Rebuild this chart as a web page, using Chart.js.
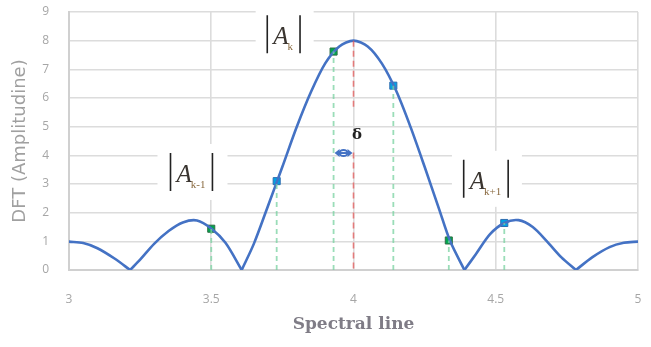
<!DOCTYPE html>
<html>
<head>
<meta charset="utf-8">
<script src="https://cdn.jsdelivr.net/npm/chart.js@4.4.0/dist/chart.umd.min.js"></script>
<style>
  html, body { margin: 0; padding: 0; background: #fff; }
  #wrap { width: 651px; height: 347px; }
</style>
</head>
<body>
<div id="wrap"><canvas id="dft-chart" width="651" height="347"></canvas></div>
<script>
    "use strict";

    // DFT amplitude curve
    var curveX = [3.00, 3.05, 3.10, 3.16, 3.215, 3.25, 3.30, 3.35, 3.40, 3.45, 3.50, 3.55, 3.607,
                  3.65, 3.70, 3.75, 3.80, 3.85, 3.90, 3.95, 4.00, 4.05, 4.10, 4.15, 4.20, 4.25, 4.30, 4.34, 4.39,
                  4.43, 4.48, 4.53, 4.58, 4.63, 4.68, 4.73, 4.782, 4.84, 4.90, 4.95, 5.00];
    var curveY = [0.99, 0.94, 0.76, 0.40, 0, 0.36, 0.92, 1.36, 1.66, 1.73, 1.45, 0.95, 0,
                  0.92, 2.25, 3.60, 4.98, 6.20, 7.20, 7.80, 8.00, 7.80, 7.20, 6.25, 5.00, 3.60, 2.15, 1.00, 0,
                  0.55, 1.25, 1.64, 1.74, 1.50, 1.00, 0.45, 0, 0.45, 0.80, 0.95, 0.99];

    // sampled spectral lines
    var greenX = [3.50, 3.93, 4.335];
    var greenY = [1.44, 7.62, 1.03];
    var blueX = [3.73, 4.14, 4.53];
    var blueY = [3.10, 6.43, 1.64];

    // true peak position and the red marker pieces
    var peakX = 4.0;
    var redUpper = [8.0, 5.6];
    var redLower = [4.1, 0];
    var deltaFrom = 3.93;
    var deltaY = 4.08;

    var xTicks = [3, 3.5, 4, 4.5, 5];
    var yTicks = [0, 1, 2, 3, 4, 5, 6, 7, 8, 9];

    var labelSubs = ["k-1", "k", "k+1"];
    var labelX = [3.434, 3.758, 4.469];
    var labelY = [3.42, 8.22, 3.18];

    // split the curve into lobes at the zeros so the dips stay sharp
    var lobes = [];
    var cur = [];
    for (var i = 0; i < curveX.length; i++) {
        cur.push({x: curveX[i], y: curveY[i]});
        if (curveY[i] === 0 && i > 0 && i < curveX.length - 1) {
            lobes.push(cur);
            cur = [{x: curveX[i], y: 0}];
        }
    }
    lobes.push(cur);

    var datasets = [];
    var green = "rgba(120,210,160,0.75)";

    function addDrop(x, y) {
        datasets.push({
            data: [{x: x, y: 0}, {x: x, y: y}],
            borderColor: green, borderWidth: 1.8, borderDash: [5, 4],
            pointRadius: 0, tension: 0
        });
    }
    for (i = 0; i < greenX.length; i++) addDrop(greenX[i], greenY[i]);
    for (i = 0; i < blueX.length; i++) addDrop(blueX[i], blueY[i]);

    [redUpper, redLower].forEach(function (seg) {
        datasets.push({
            data: [{x: peakX, y: seg[0]}, {x: peakX, y: seg[1]}],
            borderColor: "rgba(230,90,90,0.75)", borderWidth: 1.6, borderDash: [6, 4],
            pointRadius: 0, tension: 0
        });
    });

    lobes.forEach(function (lobe) {
        datasets.push({
            data: lobe,
            borderColor: "#4472C4", borderWidth: 2.6,
            pointRadius: 0, tension: 0.3, borderCapStyle: "round"
        });
    });

    datasets.push({
        data: greenX.map(function (x, k) { return {x: x, y: greenY[k]}; }),
        showLine: false, pointStyle: "rect", pointRadius: 5,
        pointBackgroundColor: "#00A64F", pointBorderColor: "#2F6E45", pointBorderWidth: 1
    });
    datasets.push({
        data: blueX.map(function (x, k) { return {x: x, y: blueY[k]}; }),
        showLine: false, pointStyle: "rect", pointRadius: 5,
        pointBackgroundColor: "#00A3E4", pointBorderColor: "#2E6DB0", pointBorderWidth: 1
    });

    // labels |A_k|, delta and the little arrow
    var notes = {
        id: "notes",
        beforeDatasetsDraw: function (chart) {
            var ctx = chart.ctx, xs = chart.scales.x, ys = chart.scales.y;
            ctx.save();
            ctx.fillStyle = "#fff";
            for (var n = 0; n < labelX.length; n++) {
                var cx = xs.getPixelForValue(labelX[n]), cy = ys.getPixelForValue(labelY[n]);
                var w = n === 1 ? 58 : 70;
                ctx.fillRect(cx - w / 2, cy - 28, w, 56);
            }
            ctx.restore();
        },
        afterDatasetsDraw: function (chart) {
            var ctx = chart.ctx, xs = chart.scales.x, ys = chart.scales.y;
            ctx.save();
            for (var n = 0; n < labelX.length; n++) {
                var cx = xs.getPixelForValue(labelX[n]), cy = ys.getPixelForValue(labelY[n]);
                ctx.font = "italic 25px 'Liberation Serif'";
                var aw = ctx.measureText("A").width;
                ctx.font = "11px 'Liberation Serif'";
                var sw = ctx.measureText(labelSubs[n]).width;
                var inner = aw + sw;
                var left = cx - inner / 2 - 7, right = cx + inner / 2 + 5;
                ctx.strokeStyle = "#222";
                ctx.lineWidth = 1.6;
                ctx.beginPath();
                ctx.moveTo(left, cy - 19); ctx.lineTo(left, cy + 19);
                ctx.moveTo(right, cy - 19); ctx.lineTo(right, cy + 19);
                ctx.stroke();
                ctx.fillStyle = "#3a3530";
                ctx.textBaseline = "alphabetic";
                ctx.textAlign = "left";
                ctx.font = "italic 25px 'Liberation Serif'";
                ctx.fillText("A", cx - inner / 2 - 1, cy + 10);
                ctx.font = "11px 'Liberation Serif'";
                ctx.fillStyle = "#8a6a40";
                ctx.fillText(labelSubs[n], cx - inner / 2 + aw - 2, cy + 16);
            }

            // delta
            ctx.fillStyle = "#222";
            ctx.font = "bold 15px 'DejaVu Serif'";
            ctx.textAlign = "center";
            ctx.textBaseline = "middle";
            ctx.fillText("δ", xs.getPixelForValue(4.012), ys.getPixelForValue(4.72));

            // double arrow between the sampled bin and the true peak
            var x1 = xs.getPixelForValue(deltaFrom) + 1, x2 = xs.getPixelForValue(peakX) - 1;
            var ay = ys.getPixelForValue(deltaY);
            ctx.strokeStyle = "#4472C4";
            ctx.fillStyle = "#4472C4";
            ctx.lineWidth = 2;
            ctx.beginPath();
            ctx.moveTo(x1 + 3, ay); ctx.lineTo(x2 - 3, ay);
            ctx.stroke();
            ctx.beginPath();
            ctx.ellipse((x1 + x2) / 2, ay, 4, 3, 0, 0, Math.PI * 2);
            ctx.stroke();
            ctx.beginPath();
            ctx.moveTo(x1, ay); ctx.lineTo(x1 + 5, ay - 4); ctx.lineTo(x1 + 5, ay + 4); ctx.closePath();
            ctx.moveTo(x2, ay); ctx.lineTo(x2 - 5, ay - 4); ctx.lineTo(x2 - 5, ay + 4); ctx.closePath();
            ctx.fill();
            ctx.restore();
        }
    };

    var ctx1 = document.getElementById("dft-chart").getContext("2d");
    var myChart1 = new Chart(ctx1, {
        type: "line",
        data: {datasets: datasets},
        plugins: [notes],
        options: {
            responsive: false,
            animation: false,
            layout: {padding: {top: 12, right: 13, left: 0, bottom: 0}},
            plugins: {legend: {display: false}, tooltip: {enabled: false}},
            scales: {
                x: {
                    type: "linear", min: 3, max: 5,
                    afterBuildTicks: function (s) { s.ticks = xTicks.map(function (v) { return {value: v}; }); },
                    afterFit: function (s) { s.height = 77; s.paddingLeft = 0; s.paddingRight = 0; },
                    grid: {color: "#dcdcdc", lineWidth: 1.6, drawTicks: false},
                    border: {color: "#d0d0d0", width: 2},
                    ticks: {
                        color: "#a6a6a6", padding: 22, font: {family: "Open Sans", size: 12},
                        callback: function (v) { return String(v); }
                    },
                    title: {
                        display: true, text: "Spectral line", color: "#7f7c86",
                        font: {family: "DejaVu Serif", size: 17, weight: "bold"},
                        padding: {top: 0, bottom: 12}
                    }
                },
                y: {
                    min: 0, max: 9,
                    afterBuildTicks: function (s) { s.ticks = yTicks.map(function (v) { return {value: v}; }); },
                    afterFit: function (s) { s.width = 69; s.paddingTop = 0; s.paddingBottom = 0; },
                    grid: {color: "#dcdcdc", lineWidth: 1.6, drawTicks: false},
                    border: {color: "#d0d0d0", width: 2},
                    ticks: {color: "#a6a6a6", padding: 20, font: {family: "Open Sans", size: 12}},
                    title: {
                        display: true, text: "DFT (Amplitudine)", color: "#a0a0a0",
                        font: {family: "DejaVu Sans", size: 18},
                        padding: {top: 10, bottom: 0}
                    }
                }
            }
        }
    });
</script>
</body>
</html>
